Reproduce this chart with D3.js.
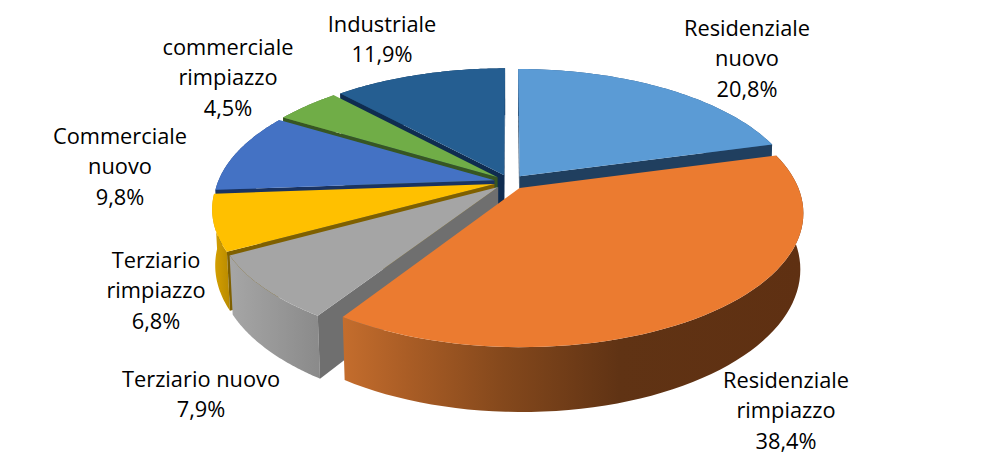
<!DOCTYPE html>
<html><head><meta charset="utf-8">
<script src="https://cdn.jsdelivr.net/npm/d3@7"></script>
<style>html,body{margin:0;padding:0;background:#fff}svg{display:block}</style>
</head><body><svg id="c" width="1004" height="472"></svg>
<script>
// data
const categories = ["Residenziale nuovo","Residenziale rimpiazzo","Terziario nuovo","Terziario rimpiazzo","Commerciale nuovo","commerciale rimpiazzo","Industriale"];
const values = [20.8,38.4,7.9,6.8,9.8,4.5,11.9];
const labelLines = [["Residenziale","nuovo"],["Residenziale","rimpiazzo"],["Terziario nuovo"],["Terziario","rimpiazzo"],["Commerciale","nuovo"],["commerciale","rimpiazzo"],["Industriale"]];
// styles
const topColors = ["#5B9BD5","#EB7B30","#A5A5A5","#FFC000","#4472C4","#70AD47","#255E91"];
const sideColors = ["#203F5F","#7F3F14","#6F6F6F","#7F6000","#1A3361","#375623","#0F2C50"];
const wallStops = [
  [["#2a5580",0],["#2a5580",1]],
  [["#C46D2D",0],["#A85C25",0.15],["#84481C",0.35],["#603314",0.6],["#5F3012",1]],
  [["#A6A6A6",0],["#8A8A8A",1]],
  [["#D9A300",0],["#B88A00",1]],
  [["#2a4a85",0],["#2a4a85",1]],
  [["#4d7830",0],["#4d7830",1]],
  [["#183d60",0],["#183d60",1]]
];
const labelX = [747,786,201,156,120,228,382];
const labelY = [28,380,379,260,136,47,24];
const lineGap = 30.5;
// projection parameters
const cx=510, cy=182, A=276.5, B=128.2, U=0.179, D=55, V=0.01, EXPL=0.058;
function proj(X,Y,h){const w=1+U*Y+V*h;return [cx+A*X/w, cy+(-B*Y+D*h)/w];}

const svg=d3.select("#c");
const defs=svg.append("defs");
const pie=d3.pie().value(d=>d).sort(null).startAngle(0).endAngle(2*Math.PI);
const arcs=pie(values);
const line=d3.line();
const order=[6,5,4,3,2,0,1];

function pt(a,mid,r,h){return proj(r*Math.sin(a)+EXPL*Math.sin(mid), r*Math.cos(a)+EXPL*Math.cos(mid), h);}

order.forEach(i=>{
  const d=arcs[i], mid=(d.startAngle+d.endAngle)/2;
  const as=d3.range(0,65).map(k=>d.startAngle+(d.endAngle-d.startAngle)*k/64);
  const rimTop=as.map(a=>pt(a,mid,1,0));
  const rimBot=as.map(a=>pt(a,mid,1,1));
  const xs=rimBot.concat(rimTop).map(p=>p[0]);
  const g=svg.append("g").attr("class","slice");
  const gid="w"+i;
  const gr=defs.append("linearGradient").attr("id",gid).attr("gradientUnits","userSpaceOnUse")
    .attr("x1",d3.min(xs)).attr("x2",d3.max(xs)).attr("y1",0).attr("y2",0);
  wallStops[i].forEach(s=>gr.append("stop").attr("offset",s[1]).attr("stop-color",s[0]));
  // outer wall
  g.append("path").attr("d",line(rimTop.concat(rimBot.slice().reverse()))+"Z").attr("fill","url(#"+gid+")");
  // radial side walls, only those facing the viewer
  [[d.startAngle,1],[d.endAngle,-1]].forEach(([a,sign])=>{
    const poly=[pt(a,mid,0,0),pt(a,mid,1,0),pt(a,mid,1,1),pt(a,mid,0,1)];
    if(d3.polygonArea(poly)*sign>0){
      g.append("path").attr("d",line(poly)+"Z").attr("fill",sideColors[i]);
    }
  });
  // top face
  g.append("path").attr("d",line([pt(0,mid,0,0)].concat(rimTop))+"Z").attr("fill",topColors[i]);
});

const fmt=v=>String(v.toFixed(1)).replace(".",",")+"%";
categories.forEach((c,i)=>{
  const t=svg.append("text").attr("text-anchor","middle")
    .attr("font-family","'Open Sans',sans-serif").attr("font-size",21.8).attr("fill","#000");
  labelLines[i].concat([fmt(values[i])]).forEach((s,k)=>{
    t.append("tspan").attr("x",labelX[i]).attr("y",labelY[i]+k*lineGap).attr("dy","0.35em").text(s);
  });
});
</script></body></html>
